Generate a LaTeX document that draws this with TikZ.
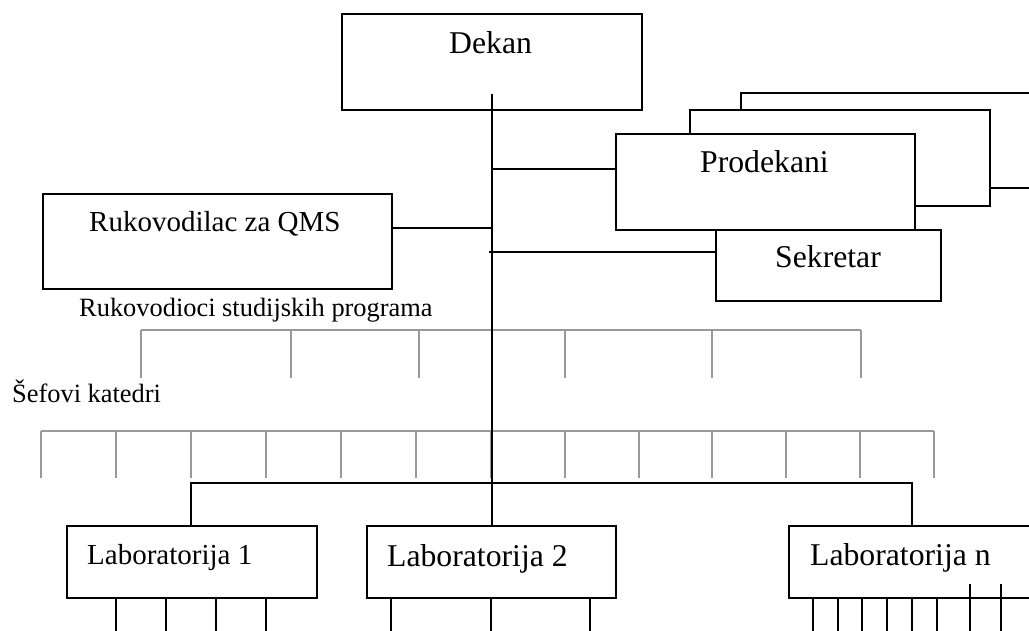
\documentclass[tikz,border=0pt]{standalone}
\usepackage{fontspec}
\setmainfont{Liberation Serif}
\begin{document}
\begin{tikzpicture}[x=1pt,y=-1pt,
  box/.style={draw=black,line width=1.8pt,fill=white,inner sep=0pt,anchor=north west},
  big/.style={inner sep=0pt,anchor=base west,font=\fontsize{31.7}{36}\selectfont},
  mid/.style={inner sep=0pt,anchor=base west,font=\fontsize{29}{34}\selectfont},
  small/.style={inner sep=0pt,anchor=base west,font=\fontsize{26.4}{30}\selectfont},
  conn/.style={draw=black,line width=1.8pt},
  grayline/.style={draw=black!40,line width=1.8pt}]
\useasboundingbox (0,0) rectangle (1029,631);
\clip (0,0) rectangle (1029,631);
% spine coordinates
\coordinate (sTop) at (492,94);
% gray program heads
\coordinate (g1L) at (141,330);
\coordinate (g1R) at (861,330);
\draw[grayline] (g1L) -- (g1R);
\foreach \x in {141,291,419,565,712,861}
  \draw[grayline] (\x,330) -- (\x,378);
% gray department heads
\coordinate (g2L) at (41,431);
\coordinate (g2R) at (934,431);
\draw[grayline] (g2L) -- (g2R);
\foreach \x in {41,116,191,266,341,416,491,565,639,712,786,860,934}
  \draw[grayline] (\x,431) -- (\x,478);
% Dekan
\node[box,minimum width=300pt,minimum height=96pt] (dekan) at (341,13) {};
\node[big] (tdekan) at (449,54) {Dekan};
% Prodekani stack
\node[box,minimum width=305pt,minimum height=95pt] (prod3) at (740,92) {};
\node[box,minimum width=300pt,minimum height=96pt] (prod2) at (689,109) {};
\node[box,minimum width=299pt,minimum height=96pt] (prod1) at (615,133) {};
\node[big] (tprod) at (700,173) {Prodekani};
\draw[conn] (sTop |- 0,169) -- (prod1.west |- 0,169);
% Sekretar
\node[box,minimum width=225pt,minimum height=71pt] (sek) at (715,229) {};
\node[big] (tsek) at (775,268) {Sekretar};
\draw[conn] (489,252) coordinate (sekL) -- (sek.west |- sekL);
% QMS
\node[box,minimum width=349pt,minimum height=95pt] (qms) at (42,193) {};
\node[mid] (tqms) at (89,232) {Rukovodilac za QMS};
\draw[conn] (qms.east |- 0,228) -- (sTop |- 0,228);
% labels
\node[small] (trsp) at (79,317) {Rukovodioci studijskih programa};
\node[small] (tsef) at (12,402) {Šefovi katedri};
% labs
\coordinate (labL) at (191,483);
\coordinate (labR) at (912,483);
\node[box,minimum width=250pt,minimum height=72pt] (lab1) at (66,525) {};
\node[box,minimum width=249pt,minimum height=72pt] (lab2) at (366,525) {};
\node[box,minimum width=257pt,minimum height=72pt] (labn) at (788,525) {};
% spine
\draw[conn] (sTop) -- (sTop |- lab2.north);
\draw[conn] (labL |- lab1.north) -- (labL) -- (labR) -- (labR |- labn.north);
\node[mid] (tlab1) at (87,564) {Laboratorija 1};
\node[big] (tlab2) at (387,566) {Laboratorija 2};
\node[big] (tlabn) at (810,565) {Laboratorija n};
% lines below labs
\foreach \x in {116,166,216,266}
  \draw[conn] (\x,597) -- (\x,640);
\foreach \x in {391,491,590}
  \draw[conn] (\x,597) -- (\x,640);
\foreach \x in {813,838,862,887,912,937}
  \draw[conn] (\x,597) -- (\x,640);
\foreach \x in {970,1001}
  \draw[conn] (\x,584) -- (\x,640);
\end{tikzpicture}
\end{document}
